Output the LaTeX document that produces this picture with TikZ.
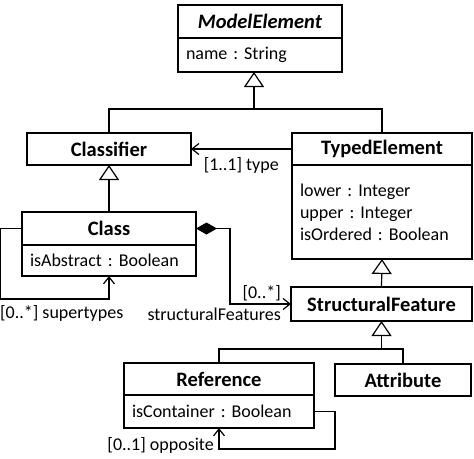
\documentclass[tikz,border=0pt]{standalone}
\usepackage{fontspec}
\setmainfont{Carlito}
\usetikzlibrary{arrows.meta}
\frenchspacing
\begin{document}
\begin{tikzpicture}[x=1pt,y=-1pt,
  hdr/.style={draw, line width=1.2pt, inner sep=0pt, outer sep=0pt, font=\frenchspacing\fontsize{20.5}{24}\selectfont\bfseries},
  attrbox/.style={draw, line width=1.2pt, inner xsep=8pt, inner ysep=0pt, outer sep=0pt, align=left, font=\frenchspacing\fontsize{18}{22}\selectfont},
  con/.style={line width=1.2pt},
  gen/.style={con, -{Triangle[open, length=15pt, width=20pt, fill=white]}},
  nav/.style={con, -{Straight Barb[length=7pt, width=11pt]}},
  lbl/.style={font=\frenchspacing\fontsize{18}{22}\selectfont, inner sep=0pt}
]
\useasboundingbox (0,0) rectangle (474,458);

% ModelElement
\node[hdr, minimum width=164, minimum height=33] (me) at (260,21.5) {\textit{ModelElement}};
\node[attrbox, minimum width=164, minimum height=34, text width=148, anchor=north] (mea) at (me.south) {name : String};

% Classifier
\node[hdr, minimum width=164, minimum height=32] (classifier) at (109,149) {Classifier};

% TypedElement
\node[hdr, minimum width=180, minimum height=32] (typed) at (382,149) {TypedElement};
\node[attrbox, minimum width=180, minimum height=94, text width=164, anchor=north] (typeda) at (typed.south) {lower : Integer\\upper : Integer\\isOrdered : Boolean};

% Class
\node[hdr, minimum width=174, minimum height=33] (class) at (109,228.5) {Class};
\node[attrbox, minimum width=174, minimum height=31, text width=158, anchor=north] (classa) at (class.south) {isAbstract : Boolean};

% StructuralFeature
\node[hdr, minimum width=181, minimum height=34] (sf) at (381.5,304) {StructuralFeature};

% Reference
\node[hdr, minimum width=190, minimum height=32] (ref) at (219,379) {Reference};
\node[attrbox, minimum width=190, minimum height=33, text width=174, anchor=north] (refa) at (ref.south) {isContainer : Boolean};

% Attribute
\node[hdr, minimum width=136, minimum height=32] (attr) at (403,380) {Attribute};

% generalizations
\coordinate (j1) at (254,109);
\draw[con] (classifier.north) |- (j1) -| (typed.north);
\draw[gen] (j1) -- (j1 |- mea.south);
\draw[gen] (class.north) -- (classifier.south);
\draw[gen] (sf.north) -- (typeda.south);
\coordinate (j3) at (381.5,349);
\draw[con] (ref.north) |- (j3) -| (attr.north);
\draw[gen] (j3) -- (j3 |- sf.south);

% type
\draw[nav] (typed.west) -- (classifier.east);
\node[lbl, anchor=east] (ltype) at (279,165) {[1..1] type};

% supertypes
\coordinate (sl) at (0.6,299);
\draw[nav] (class.west) -| (sl) -| (classa.south);
\node[lbl, anchor=west] (lsup) at (0,313) {[0..*] supertypes};

% structuralFeatures
\draw[con, {Diamond[length=21pt, width=12pt]}-{Straight Barb[length=7pt, width=11pt]}] (class.east) -- ++(34,0) |- (sf.west);
\node[lbl, anchor=east] (lsfm) at (281,293) {[0..*]};
\node[lbl, anchor=east] (lsf) at (281,314) {structuralFeatures};

% opposite
\coordinate (ol) at (335,449);
\draw[nav] (refa.east) -| (ol) -| (refa.south);
\node[lbl, anchor=east] (lopp) at (214,445) {[0..1] opposite};
\end{tikzpicture}
\end{document}
